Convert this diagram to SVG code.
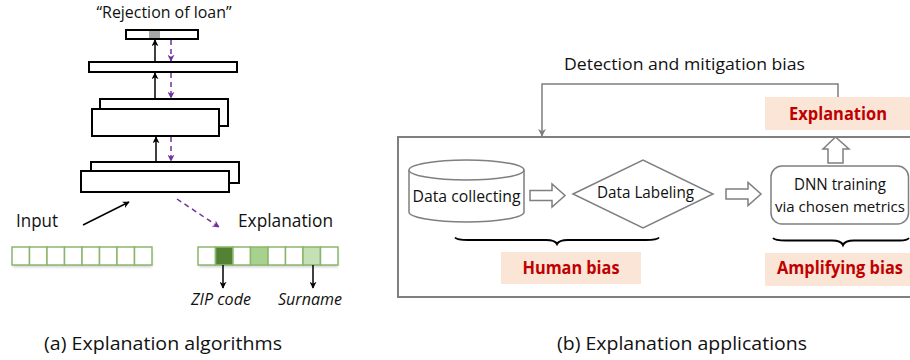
<svg xmlns="http://www.w3.org/2000/svg" width="910" height="360" viewBox="0 0 910 360">
<style>
text{font-family:"Open Sans","Liberation Sans",sans-serif;fill:#111}
.layer{fill:#fff;stroke:#000;stroke-width:2}
.cell{fill:#fff;stroke:#8ab66c;stroke-width:1.5}
.blk{stroke:#000;stroke-width:1.5;fill:none}
.pur{stroke:#7030a0;stroke-width:1.5;fill:none;stroke-dasharray:5,4}
.gray{stroke:#7f7f7f;stroke-width:1.5;fill:none}
.hollow{fill:#fff;stroke:#7f7f7f;stroke-width:1.5}
.tag{fill:#fbe5d6}
.red{fill:#c00000;font-weight:bold;font-size:17.5px}
.brace{stroke:#000;stroke-width:2;fill:none}
</style>
<defs>
<marker id="ab" viewBox="0 0 10 10" refX="9" refY="5" markerWidth="7" markerHeight="7" orient="auto" markerUnits="userSpaceOnUse">
<path d="M0,0 L10,5 L0,10 L3,5 z" fill="#000"/>
</marker>
<marker id="ap" viewBox="0 0 10 10" refX="9" refY="5" markerWidth="7" markerHeight="7" orient="auto" markerUnits="userSpaceOnUse">
<path d="M0,0 L10,5 L0,10 L3,5 z" fill="#7030a0"/>
</marker>
<marker id="ag" viewBox="0 0 10 10" refX="9" refY="5" markerWidth="8" markerHeight="8" orient="auto" markerUnits="userSpaceOnUse">
<path d="M0,0 L10,5 L0,10 L3,5 z" fill="#7f7f7f"/>
</marker>
<filter id="sh" x="-10%" y="-50%" width="120%" height="200%">
<feGaussianBlur stdDeviation="1.5"/>
</filter>
</defs>

<!-- (a) Explanation algorithms -->
<text x="164" y="18" font-size="15.5" text-anchor="middle" textLength="135" lengthAdjust="spacingAndGlyphs">“Rejection of loan”</text>

<g id="out-layer">
<rect class="layer" x="126" y="30" width="72" height="9"/>
<rect x="149" y="31" width="11" height="7" fill="#a6a6a6"/>
</g>
<g id="layer2"><rect class="layer" x="89" y="62" width="148" height="10"/></g>
<g id="layer3">
<rect class="layer" x="100" y="99" width="128" height="27"/>
<rect class="layer" x="92" y="109" width="127" height="27"/>
</g>
<g id="layer4">
<rect class="layer" x="91" y="162" width="148" height="21"/>
<rect class="layer" x="81" y="171" width="148" height="21"/>
</g>

<text x="16" y="227" font-size="18.5" textLength="42" lengthAdjust="spacingAndGlyphs">Input</text>
<text x="238" y="227" font-size="18.5" textLength="95" lengthAdjust="spacingAndGlyphs">Explanation</text>

<g id="input-cells">
<rect x="13" y="250" width="139" height="17" fill="#999" opacity="0.5" filter="url(#sh)"/>
<rect class="cell" x="12" y="247" width="17.5" height="18"/>
<rect class="cell" x="29.5" y="247" width="17.5" height="18"/>
<rect class="cell" x="47" y="247" width="17.5" height="18"/>
<rect class="cell" x="64.5" y="247" width="17.5" height="18"/>
<rect class="cell" x="82" y="247" width="17.5" height="18"/>
<rect class="cell" x="99.5" y="247" width="17.5" height="18"/>
<rect class="cell" x="117" y="247" width="17.5" height="18"/>
<rect class="cell" x="134.5" y="247" width="17.5" height="18"/>
</g>

<g id="explanation-cells">
<rect x="199" y="250" width="139" height="17" fill="#999" opacity="0.5" filter="url(#sh)"/>
<rect class="cell" x="198" y="247" width="17.5" height="18"/>
<rect class="cell" x="215.5" y="247" width="17.5" height="18" style="fill:#548235"/>
<rect class="cell" x="233" y="247" width="17.5" height="18"/>
<rect class="cell" x="250.5" y="247" width="17.5" height="18" style="fill:#a9d18e"/>
<rect class="cell" x="268" y="247" width="17.5" height="18"/>
<rect class="cell" x="285.5" y="247" width="17.5" height="18"/>
<rect class="cell" x="303" y="247" width="17.5" height="18" style="fill:#c5e0b4"/>
<rect class="cell" x="320.5" y="247" width="17.5" height="18"/>
</g>

<text x="191" y="305" font-size="15.5" font-style="italic" textLength="60" lengthAdjust="spacingAndGlyphs">ZIP code</text>
<text x="278" y="305" font-size="15.5" font-style="italic" textLength="64" lengthAdjust="spacingAndGlyphs">Surname</text>

<text x="44" y="350" font-size="19" textLength="238" lengthAdjust="spacingAndGlyphs">(a) Explanation algorithms</text>

<g id="connectors">
<line class="blk" x1="155" y1="62" x2="155" y2="40" marker-end="url(#ab)"/>
<line class="blk" x1="155" y1="99" x2="155" y2="73" marker-end="url(#ab)"/>
<line class="blk" x1="156" y1="162" x2="156" y2="137" marker-end="url(#ab)"/>
<line class="pur" x1="171" y1="40" x2="171" y2="61" marker-end="url(#ap)"/>
<line class="pur" x1="171" y1="73" x2="171" y2="98" marker-end="url(#ap)"/>
<line class="pur" x1="171" y1="137" x2="171" y2="161" marker-end="url(#ap)"/>
<line class="blk" x1="83" y1="225" x2="129" y2="202" marker-end="url(#ab)"/>
<line class="pur" x1="177" y1="199" x2="219" y2="227" marker-end="url(#ap)"/>
<line class="blk" x1="223" y1="265" x2="223" y2="288" marker-end="url(#ab)"/>
<line class="blk" x1="313" y1="265" x2="313" y2="288" marker-end="url(#ab)"/>
<polyline class="gray" points="838,97 838,84 542,84 542,136" marker-end="url(#ag)"/>
</g>

<!-- (b) Explanation applications -->
<text x="564" y="70" font-size="17" textLength="241" lengthAdjust="spacingAndGlyphs">Detection and mitigation bias</text>

<g id="frame"><rect x="398" y="137" width="520" height="160" fill="none" stroke="#7f7f7f" stroke-width="2"/></g>

<g id="explanation-tag">
<rect class="tag" x="765" y="97" width="150" height="33"/>
<text class="red" x="838" y="120" text-anchor="middle" textLength="98" lengthAdjust="spacingAndGlyphs">Explanation</text>
</g>

<g id="up-arrow">
<path class="hollow" d="M828,163 L828,149 L823,149 L835.5,137 L849,149 L843,149 L843,163 Z"/>
</g>

<g id="data-collecting">
<path d="M409,170 L409,212 A57.5,10 0 0 0 524,212 L524,170" fill="#fff" stroke="#7f7f7f" stroke-width="1.5"/>
<ellipse cx="466.5" cy="170" rx="57.5" ry="10" fill="#fff" stroke="#7f7f7f" stroke-width="1.5"/>
<text x="466.5" y="202" font-size="16.5" text-anchor="middle" textLength="108" lengthAdjust="spacingAndGlyphs">Data collecting</text>
</g>

<g id="arrow1"><path class="hollow" d="M530,190.5 L552,190.5 L552,184 L565,195.5 L552,207 L552,200.5 L530,200.5 Z"/></g>

<g id="data-labeling">
<polygon points="573,194 643,160 713,194 643,228" fill="#fff" stroke="#7f7f7f" stroke-width="1.5"/>
<text x="645.5" y="198" font-size="16.5" text-anchor="middle" textLength="97" lengthAdjust="spacingAndGlyphs">Data Labeling</text>
</g>

<g id="arrow2"><path class="hollow" d="M726,189 L748,189 L748,182.5 L761,194 L748,205.5 L748,199 L726,199 Z"/></g>

<g id="dnn-training">
<rect x="771" y="166" width="137.5" height="58" rx="11" fill="#fff" stroke="#7f7f7f" stroke-width="1.5"/>
<text x="840" y="190" font-size="15.5" text-anchor="middle" textLength="92" lengthAdjust="spacingAndGlyphs">DNN training</text>
<text x="840" y="212" font-size="15" text-anchor="middle" textLength="130" lengthAdjust="spacingAndGlyphs">via chosen metrics</text>
</g>

<path class="brace" d="M455,237.5 Q457,240 468,240 L546,240 Q555,240 557,244 Q559,240 568,240 L646,240 Q657,240 659,237.5"/>
<path class="brace" d="M773,238 Q775,240.5 786,240.5 L832,240.5 Q841,240.5 843,245 Q845,240.5 854,240.5 L900,240.5 Q907,240.5 909,238"/>

<g id="human-bias">
<rect class="tag" x="501" y="252" width="140" height="32"/>
<text class="red" x="571" y="274" text-anchor="middle" textLength="97" lengthAdjust="spacingAndGlyphs">Human bias</text>
</g>

<g id="amplifying-bias">
<rect class="tag" x="765" y="253" width="150" height="33"/>
<text class="red" x="840" y="274" text-anchor="middle" textLength="126" lengthAdjust="spacingAndGlyphs">Amplifying bias</text>
</g>

<text x="557" y="350" font-size="19" textLength="250" lengthAdjust="spacingAndGlyphs">(b) Explanation applications</text>
</svg>
